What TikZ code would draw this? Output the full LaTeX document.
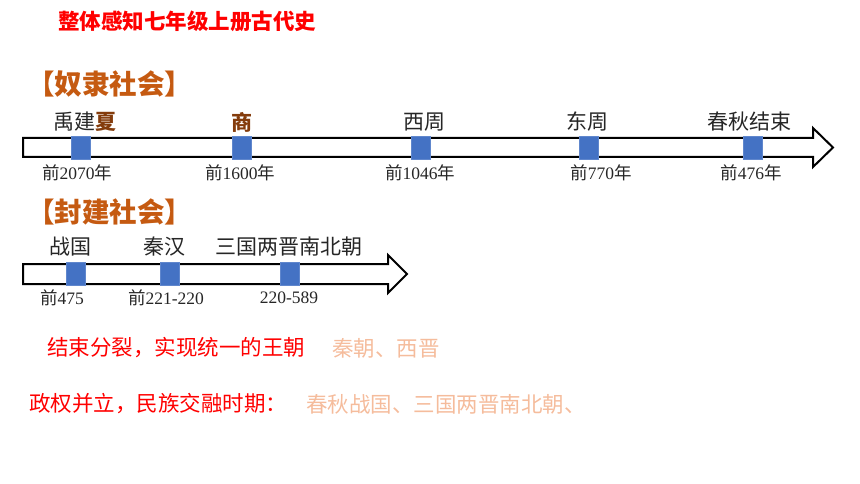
\documentclass[tikz,border=0pt]{standalone}
\usepackage{fontspec}
\newfontfamily\cjk{Noto Sans CJK SC}
\newfontfamily\serd{Liberation Serif}
\definecolor{titred}{HTML}{FF0000}
\definecolor{secor}{HTML}{C55A11}
\definecolor{brn}{HTML}{843C0C}
\definecolor{sqblue}{HTML}{4472C4}
\definecolor{fade}{HTML}{F5BC9C}
\tikzset{
  sq/.style={rectangle,fill=sqblue,draw=sqblue!85!white,line width=0.6pt,minimum width=19pt,minimum height=23pt,inner sep=0pt},
  era/.style={inner sep=0pt,font=\cjk\fontsize{21}{24}\selectfont,text=black!85},
  yr/.style={inner sep=0pt,font=\cjk\fontsize{17.5}{20}\selectfont,text=black!85},
  sec/.style={inner sep=0pt,anchor=west,font=\cjk\bfseries\fontsize{27.5}{32}\selectfont,text=secor},
  arrowbody/.style={draw=black,line width=2pt,fill=white,line join=miter},
  redtxt/.style={inner sep=0pt,anchor=west,font=\cjk\fontsize{21.5}{24}\selectfont,text=titred},
  fadetxt/.style={inner sep=0pt,anchor=west,font=\cjk\fontsize{21.5}{24}\selectfont,text=fade}
}
\newcommand{\dg}[1]{{\serd #1}}
\begin{document}
\begin{tikzpicture}[x=1pt,y=-1pt]
\useasboundingbox (0,0) rectangle (860,484);
% title
\node[inner sep=0pt,anchor=west,font=\cjk\bfseries\fontsize{21.5}{24}\selectfont,text=titred] (title) at (58,21) {整体感知七年级上册古代史};
% section 1
\node[sec] (sec1) at (27,84) {【奴隶社会】};
\draw[arrowbody] (23,138) -- (813,138) -- (813,128) -- (833,147.5) -- (813,167) -- (813,157) -- (23,157) -- cycle;
\node[sq] (s1) at (81,148) {};
\node[sq] (s2) at (242,148) {};
\node[sq] (s3) at (421,148) {};
\node[sq] (s4) at (589,148) {};
\node[sq] (s5) at (753,148) {};
\node[era] (e1) at (85,122) {禹建{\bfseries\color{brn}夏}};
\node[era] (e2) at (242,122) {{\bfseries\color{brn}商}};
\node[era] (e3) at (424,122) {西周};
\node[era] (e4) at (587,122) {东周};
\node[era] (e5) at (749,122) {春秋结束};
\node[yr] (y1) at (77,173) {前\dg{2070}年};
\node[yr] (y2) at (240,173) {前\dg{1600}年};
\node[yr] (y3) at (420,173) {前\dg{1046}年};
\node[yr] (y4) at (601,173) {前\dg{770}年};
\node[yr] (y5) at (751,173) {前\dg{476}年};
% section 2
\node[sec] (sec2) at (27,212) {【封建社会】};
\draw[arrowbody] (23,264) -- (388,264) -- (388,255) -- (407,274) -- (388,293) -- (388,284) -- (23,284) -- cycle;
\node[sq] (t1) at (76,273.5) {};
\node[sq] (t2) at (170,273.5) {};
\node[sq] (t3) at (290,273.5) {};
\node[era] (f1) at (70,247) {战国};
\node[era] (f2) at (164,247) {秦汉};
\node[era] (f3) at (289,247) {三国两晋南北朝};
\node[yr] (z1) at (62,298) {前\dg{475}};
\node[yr] (z2) at (166,298) {前\dg{221-220}};
\node[yr] (z3) at (289,298) {\dg{220-589}};
% bottom
\node[redtxt] (r1) at (47,348) {结束分裂，实现统一的王朝};
\node[fadetxt] (a1) at (332,348) {秦朝、西晋};
\node[redtxt] (r2) at (29,404) {政权并立，民族交融时期：};
\node[fadetxt] (a2) at (306,404) {春秋战国、三国两晋南北朝、};
\end{tikzpicture}
\end{document}
